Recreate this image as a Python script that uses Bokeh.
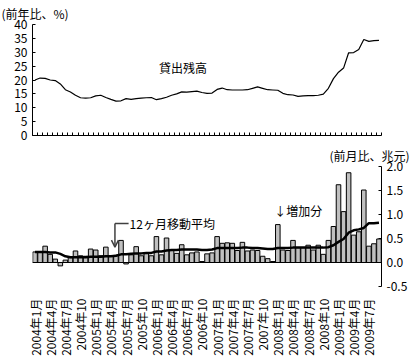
import math
from bokeh.plotting import figure
from bokeh.layouts import column
from bokeh.models import (ColumnDataSource, FixedTicker, Span, Label, Arrow,
                          OpenHead, Range1d, PrintfTickFormatter, Title)
from bokeh.embed import file_html
from bokeh.resources import INLINE

FONT = "Noto Sans CJK JP"

# ---- data (Jan 2004 .. Sep 2009, monthly) ----
month_index = list(range(69))

loan_yoy = [20.0, 20.7, 20.6, 20.0, 19.8, 18.6, 16.5, 15.7, 14.5, 13.6, 13.5, 13.6,
            14.3, 14.5, 13.7, 13.0, 12.4, 12.5, 13.3, 13.0, 13.3, 13.5, 13.6, 13.7,
            12.9, 13.3, 13.8, 14.5, 15.0, 15.7, 15.6, 15.8, 16.0, 15.5, 15.2, 15.3,
            16.6, 17.1, 16.5, 16.4, 16.4, 16.4, 16.5, 17.0, 17.5, 17.0, 16.5, 16.4,
            16.3, 15.2, 14.7, 14.6, 14.1, 14.3, 14.4, 14.4, 14.5, 14.9, 17.0, 20.5,
            22.8, 24.3, 29.8, 29.9, 31.0, 34.6, 33.9, 34.2, 34.3]

monthly_increase = [0.22, 0.21, 0.34, 0.17, 0.07, -0.07, 0.05, 0.10, 0.24, 0.14, 0.13, 0.28,
                    0.26, 0.14, 0.32, 0.13, 0.15, 0.46, -0.03, 0.16, 0.33, 0.14, 0.20, 0.14,
                    0.54, 0.16, 0.51, 0.27, 0.19, 0.37, 0.16, 0.20, 0.22, 0.02, 0.18, 0.20,
                    0.54, 0.40, 0.41, 0.40, 0.25, 0.42, 0.24, 0.26, 0.25, 0.13, 0.08, 0.02,
                    0.79, 0.26, 0.25, 0.46, 0.31, 0.31, 0.36, 0.26, 0.36, 0.17, 0.46, 0.75,
                    1.62, 1.06, 1.87, 0.57, 0.64, 1.51, 0.34, 0.39, 0.49]

moving_avg = [0.22, 0.22, 0.22, 0.21, 0.21, 0.18, 0.13, 0.11, 0.11, 0.11, 0.11, 0.12,
              0.12, 0.12, 0.13, 0.13, 0.14, 0.17, 0.17, 0.18, 0.19, 0.19, 0.20, 0.20,
              0.23, 0.23, 0.25, 0.26, 0.26, 0.27, 0.27, 0.27, 0.27, 0.26, 0.26, 0.27,
              0.30, 0.30, 0.30, 0.30, 0.30, 0.31, 0.31, 0.30, 0.30, 0.29, 0.28, 0.28,
              0.30, 0.30, 0.30, 0.31, 0.31, 0.31, 0.31, 0.31, 0.31, 0.31, 0.32, 0.36,
              0.43, 0.49, 0.62, 0.67, 0.69, 0.72, 0.82, 0.82, 0.83]

tick_labels = ["2004年1月", "2004年4月", "2004年7月", "2004年10",
               "2005年1月", "2005年4月", "2005年7月", "2005年10",
               "2006年1月", "2006年4月", "2006年7月", "2006年10",
               "2007年1月", "2007年4月", "2007年7月", "2007年10",
               "2008年1月", "2008年4月", "2008年7月", "2008年10",
               "2009年1月", "2009年4月", "2009年7月"]
label_positions = list(range(0, 69, 3))

top_yticks = [0, 5, 10, 15, 20, 25, 30, 35, 40]
bottom_yticks = [-0.5, 0.0, 0.5, 1.0, 1.5, 2.0]

src = ColumnDataSource(dict(x=month_index, loan=loan_yoy,
                            inc=monthly_increase, ma=moving_avg))

XR = (-0.5, 68.5)

# ---------------- top panel ----------------
p1 = figure(width=414, height=142, x_range=Range1d(*XR), y_range=Range1d(0, 40),
            output_backend="svg", toolbar_location=None,
            min_border_left=32, min_border_right=33, min_border_top=20,
            min_border_bottom=7)
p1.outline_line_color = None
p1.grid.visible = False
p1.line("x", "loan", source=src, line_color="black", line_width=1.2)

p1.title = Title(text="(前年比、%)", align="left", offset=-31, standoff=5,
                 text_font=FONT, text_font_size="12px", text_font_style="normal",
                 text_color="black")

ya = p1.yaxis[0]
ya.ticker = FixedTicker(ticks=top_yticks)
ya.major_tick_in = 3
ya.major_tick_out = 0
ya.minor_tick_line_color = None
ya.major_label_standoff = 5
ya.major_label_text_font = FONT
ya.major_label_text_font_size = "12px"
ya.major_label_text_color = "black"
ya.axis_line_color = "black"

month_bounds = [k - 0.5 for k in range(70)]
xa = p1.xaxis[0]
xa.ticker = FixedTicker(ticks=month_bounds)
xa.major_label_overrides = {t: "" for t in month_bounds}
xa.major_tick_in = 3
xa.major_tick_out = 0
xa.major_tick_line_color = "black"
xa.minor_tick_line_color = None
xa.major_label_standoff = 0
xa.major_label_text_font_size = "1px"
xa.axis_line_color = "black"

p1.add_layout(Label(x=24.5, y=21.5, text="貸出残高", text_baseline="bottom",
                    text_font=FONT, text_font_size="12px", text_color="black"))

# ---------------- bottom panel ----------------
p2 = figure(width=414, height=216, x_range=Range1d(*XR), y_range=Range1d(-0.5, 2.0),
            output_backend="svg", toolbar_location=None, y_axis_location="right",
            min_border_left=30, min_border_right=32, min_border_top=21,
            min_border_bottom=70)
p2.outline_line_color = None
p2.grid.visible = False

p2.title = Title(text="(前月比、兆元)", align="right", offset=-28, standoff=5,
                 text_font=FONT, text_font_size="12px", text_font_style="normal",
                 text_color="black")

p2.vbar(x="x", top="inc", width=0.9, source=src, fill_color="#c0c0c0",
        line_color="black", line_width=1)
p2.add_layout(Span(location=0, dimension="width", line_color="black", line_width=1))
p2.line("x", "ma", source=src, line_color="black", line_width=2.5)

ra = p2.yaxis[0]
ra.ticker = FixedTicker(ticks=bottom_yticks)
ra.formatter = PrintfTickFormatter(format="%.1f")
ra.major_tick_in = 3
ra.major_tick_out = 0
ra.minor_tick_line_color = None
ra.major_label_standoff = 5
ra.major_label_text_font = FONT
ra.major_label_text_font_size = "12px"
ra.major_label_text_color = "black"
ra.axis_line_color = "black"

bx = p2.xaxis[0]
bx.ticker = FixedTicker(ticks=label_positions)
bx.major_label_overrides = {pos: lab for pos, lab in zip(label_positions, tick_labels)}
bx.major_label_orientation = math.pi / 2
bx.axis_line_color = None
bx.major_tick_line_color = None
bx.minor_tick_line_color = None
bx.major_label_standoff = 6
bx.major_label_text_font = FONT
bx.major_label_text_font_size = "12px"
bx.major_label_text_color = "black"

# 12-month moving average callout
p2.add_layout(Arrow(end=None, x_start=15.8, y_start=0.81, x_end=18.5, y_end=0.81,
                    line_color="#404040", line_width=1.5))
p2.add_layout(Arrow(end=OpenHead(size=7, line_color="#404040", line_width=1.5),
                    x_start=15.8, y_start=0.81, x_end=15.8, y_end=0.32,
                    line_color="#404040", line_width=1.5))
p2.add_layout(Label(x=18.7, y=0.81, text="12ヶ月移動平均", text_baseline="middle",
                    text_font=FONT, text_font_size="12px", text_color="black"))
p2.add_layout(Label(x=47.3, y=0.9, text="↓増加分", text_baseline="bottom",
                    text_font=FONT, text_font_size="12px", text_color="black"))

layout = column(p1, p2, spacing=0)
open("out.html", "w").write(file_html(layout, INLINE))
